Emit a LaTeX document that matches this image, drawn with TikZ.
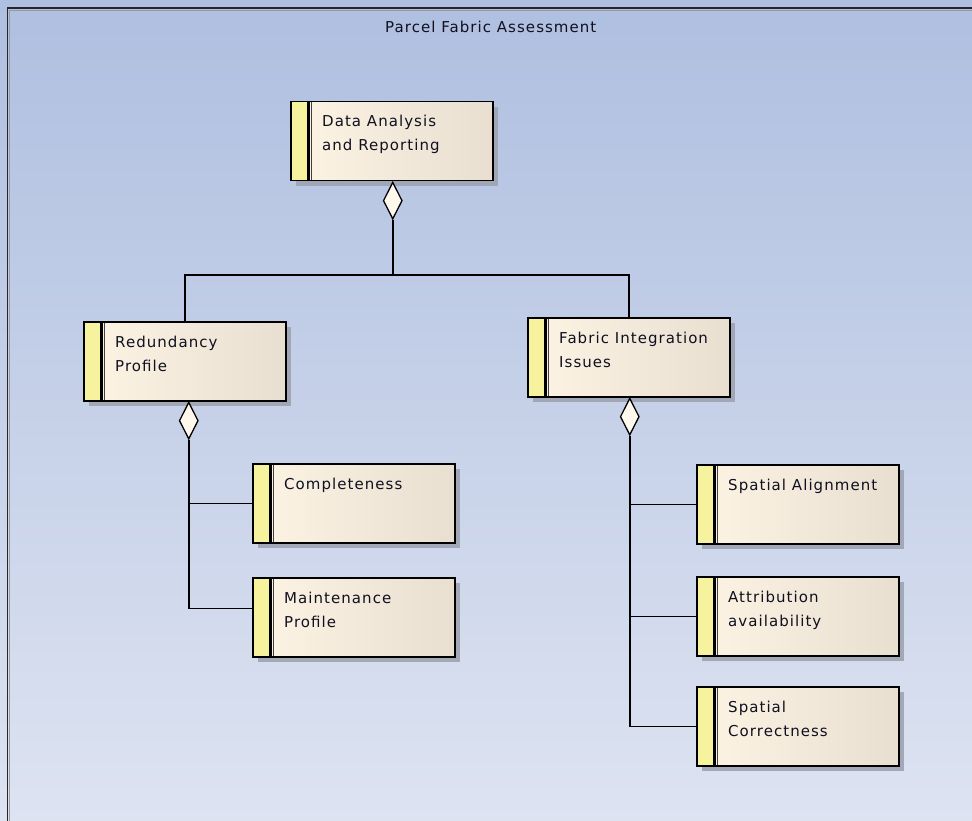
\documentclass[tikz,border=0pt]{standalone}
\usepackage{fontspec}
\newfontfamily\lblfont[LetterSpace=7]{DejaVu Sans}
\usetikzlibrary{shapes.geometric,shadows,calc}
\definecolor{bgtop}{HTML}{AFBFE0}
\definecolor{bgbot}{HTML}{DDE3F1}
\definecolor{boxl}{HTML}{FDF4E4}
\definecolor{boxr}{HTML}{E8DFD1}
\definecolor{stripc}{HTML}{F6F29E}
\definecolor{shadowc}{HTML}{9EA3B0}
\definecolor{diamc}{HTML}{FFF8EC}
\definecolor{txtc}{HTML}{101020}
\begin{document}
\begin{tikzpicture}[x=1pt,y=-1pt,
  umlbox/.style={draw=black, line width=1.5pt, rectangle, inner sep=0pt,
    minimum width=202pt, minimum height=79pt, anchor=north west,
    left color=boxl, right color=boxr,
    drop shadow={shadow xshift=5pt, shadow yshift=-5pt, fill=shadowc, opacity=0.9},
    path picture={
      \fill[stripc] (path picture bounding box.north west) rectangle ([xshift=16pt]path picture bounding box.south west);
      \fill[black] ([xshift=16pt]path picture bounding box.north west) rectangle ([xshift=19pt]path picture bounding box.south west);
      \draw[black!75, line width=0.9pt] ([xshift=21pt]path picture bounding box.north west) -- ([xshift=21pt]path picture bounding box.south west);
    }},
  lbl/.style={font=\lblfont\fontsize{15}{18}\selectfont, text=txtc, inner sep=0pt, anchor=base west},
  agg/.style={diamond, draw=black, line width=1.3pt, fill=diamc, inner sep=0pt,
    minimum width=19pt, minimum height=37pt, anchor=north},
  conn/.style={draw=black, line width=1.5pt}
]
\useasboundingbox (0,0) rectangle (972,821);
\shade[top color=bgtop, bottom color=bgbot] (0,0) rectangle (972,821);
\draw[black!85, line width=1.8pt] (7.5,821) -- (7.5,8) -- (972,8);
\draw[black!40, line width=0.6pt] (9.5,821) -- (9.5,10) -- (972,10);

\node[lbl] (title) at (385,33) {Parcel Fabric Assessment};

% boxes
\node[umlbox] (da) at (290,101) {};
\node[umlbox] (rp) at (83,321) {};
\node[umlbox] (fi) at (527,317) {};
\node[umlbox] (co) at (252,463) {};
\node[umlbox] (mp) at (252,577) {};
\node[umlbox] (sa) at (696,464) {};
\node[umlbox] (aa) at (696,576) {};
\node[umlbox] (sc) at (696,686) {};

% labels
\node[lbl] (da-1) at ($(da.north west)+(32,26)$) {Data Analysis};
\node[lbl] (da-2) at ($(da.north west)+(32,50)$) {and Reporting};
\node[lbl] (rp-1) at ($(rp.north west)+(32,26)$) {Redundancy};
\node[lbl] (rp-2) at ($(rp.north west)+(32,50)$) {Profile};
\node[lbl] (fi-1) at ($(fi.north west)+(32,26)$) {Fabric Integration};
\node[lbl] (fi-2) at ($(fi.north west)+(32,50)$) {Issues};
\node[lbl] (co-1) at ($(co.north west)+(32,26)$) {Completeness};
\node[lbl] (mp-1) at ($(mp.north west)+(32,26)$) {Maintenance};
\node[lbl] (mp-2) at ($(mp.north west)+(32,50)$) {Profile};
\node[lbl] (sa-1) at ($(sa.north west)+(32,26)$) {Spatial Alignment};
\node[lbl] (aa-1) at ($(aa.north west)+(32,26)$) {Attribution};
\node[lbl] (aa-2) at ($(aa.north west)+(32,50)$) {availability};
\node[lbl] (sc-1) at ($(sc.north west)+(32,26)$) {Spatial};
\node[lbl] (sc-2) at ($(sc.north west)+(32,50)$) {Correctness};

% aggregation diamonds
\node[agg] (da-d) at ($(da.south)+(1,0)$) {};
\node[agg] (rp-d) at ($(rp.south)+(4,0)$) {};
\node[agg] (fi-d) at ($(fi.south)+(1,0)$) {};

% connectors
\coordinate (j0) at ($(da-d.south)+(0,55)$);
\draw[conn] (da-d.south) -- (j0);
\draw[conn] (rp.north) |- (j0) -| (fi.north);

\draw[conn] (rp-d.south) |- ($(mp.west)+(0,-9)$);
\draw[conn] (rp-d.south |- co.west) -- (co.west);

\draw[conn] (fi-d.south) |- (sc.west);
\draw[conn] (fi-d.south |- sa.west) -- (sa.west);
\draw[conn] (fi-d.south |- aa.west) -- (aa.west);
\end{tikzpicture}
\end{document}
